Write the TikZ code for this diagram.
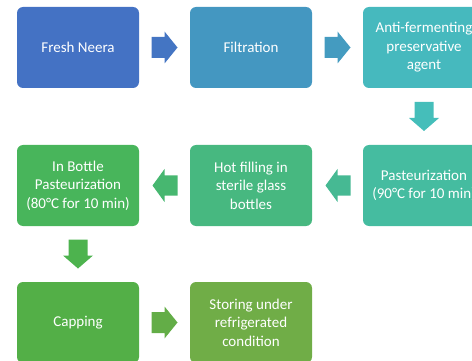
\documentclass[tikz,border=0pt]{standalone}
\usepackage{fontspec}
\setmainfont{Carlito}
\usetikzlibrary{calc}
\definecolor{cA}{HTML}{4472C4}
\definecolor{aA}{HTML}{4475C3}
\definecolor{cB}{HTML}{4497C1}
\definecolor{aB}{HTML}{449BC0}
\definecolor{cC}{HTML}{46B9BE}
\definecolor{aC}{HTML}{45BEBA}
\definecolor{cD}{HTML}{45BCA0}
\definecolor{aD}{HTML}{46B993}
\definecolor{cE}{HTML}{47B880}
\definecolor{aE}{HTML}{47B770}
\definecolor{cF}{HTML}{48B55B}
\definecolor{aF}{HTML}{4DB34E}
\definecolor{cG}{HTML}{53AF47}
\definecolor{aG}{HTML}{63AD47}
\definecolor{cH}{HTML}{70AD47}
\tikzset{
  stepbox/.style={rectangle, rounded corners=6pt, minimum width=122pt, minimum height=81pt,
    inner sep=2pt, text=white, align=center, font=\fontsize{15}{18.5}\selectfont, draw=none},
}
\newcommand{\rarrow}[2]{\fill[#2] (#1) ++(-13,-10.5) -- ++(13,0) -- ++(0,-5.5) -- ++(13,16) -- ++(-13,16) -- ++(0,-5.5) -- ++(-13,0) -- cycle;}
\newcommand{\larrow}[2]{\fill[#2] (#1) ++(13,-10) -- ++(-13,0) -- ++(0,-6.5) -- ++(-12,16.5) -- ++(12,16.5) -- ++(0,-6.5) -- ++(13,0) -- cycle;}
\newcommand{\darrow}[2]{\fill[#2] (#1) ++(-9.5,-14.5) -- ++(0,16) -- ++(-5.5,0) -- ++(15,13) -- ++(15,-13) -- ++(-5.5,0) -- ++(0,-16) -- cycle;}
\begin{document}
\begin{tikzpicture}[x=1pt,y=-1pt]
\useasboundingbox (0,0) rectangle (472,361);
\clip (0,0) rectangle (472,361);
\node[stepbox, fill=cA] (b1) at (78,47.5) {Fresh Neera};
\node[stepbox, fill=cB] (b2) at (251,47.5) {Filtration};
\node[stepbox, fill=cC] (b3) at (424,47.5) {Anti-fermenting\\preservative\\agent};
\node[stepbox, fill=cD] (b4) at (424,185.5) {Pasteurization\\(90°C for 10 min)};
\node[stepbox, fill=cE] (b5) at (251,185.5) {Hot filling in\\sterile glass\\bottles};
\node[stepbox, fill=cF] (b6) at (78,185.5) {In Bottle\\Pasteurization\\(80°C for 10 min)};
\node[stepbox, fill=cG] (b7) at (78,322.5) {Capping};
\node[stepbox, fill=cH] (b8) at (251,322.5) {Storing under\\refrigerated\\condition};
\coordinate (m12) at ($(b1.east)!0.5!(b2.west)$);
\coordinate (m23) at ($(b2.east)!0.5!(b3.west)$);
\coordinate (m34) at ($(b3.south)!0.5!(b4.north)$);
\coordinate (m45) at ($(b4.west)!0.5!(b5.east)$);
\coordinate (m56) at ($(b5.west)!0.5!(b6.east)$);
\coordinate (m67) at ($(b6.south)!0.5!(b7.north)$);
\coordinate (m78) at ($(b7.east)!0.5!(b8.west)$);
\rarrow{m12}{aA}
\rarrow{m23}{aB}
\darrow{m34}{aC}
\larrow{m45}{aD}
\larrow{m56}{aE}
\darrow{m67}{aF}
\rarrow{m78}{aG}
\end{tikzpicture}
\end{document}
